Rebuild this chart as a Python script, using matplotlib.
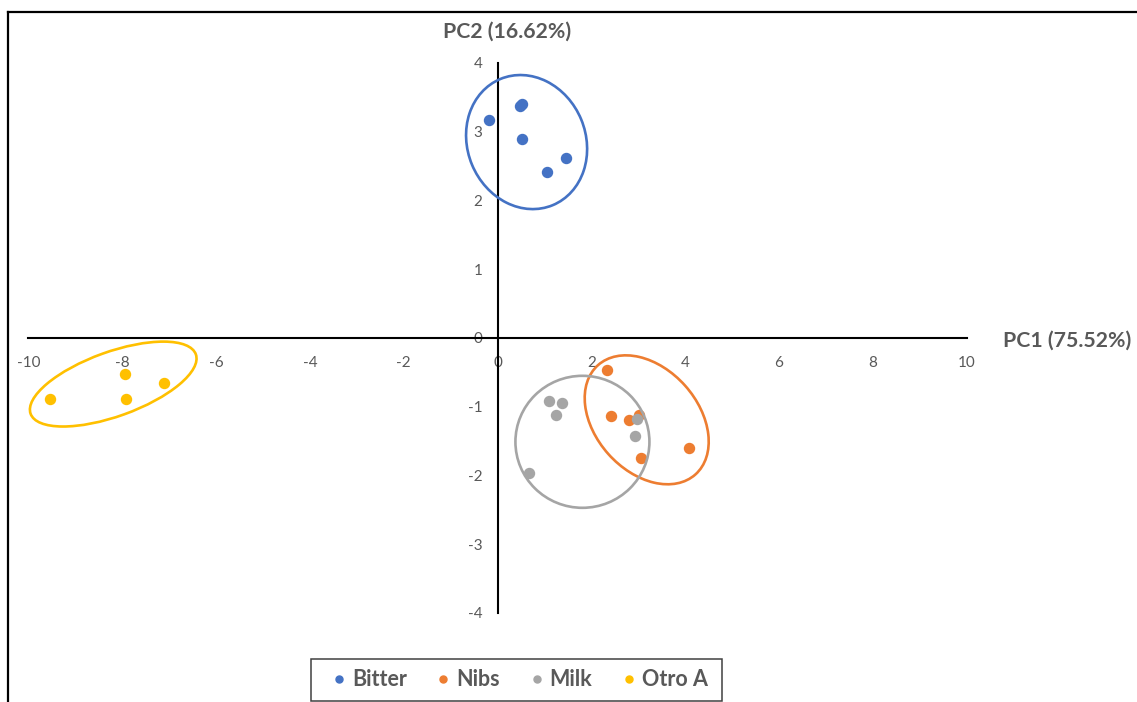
import matplotlib
matplotlib.use("Agg")
import matplotlib.pyplot as plt
import matplotlib.transforms as mtransforms
from matplotlib.patches import Ellipse, Rectangle
from matplotlib.lines import Line2D

# PCA scores
groups = ["Bitter", "Nibs", "Milk", "Otro A"]
colors = ["#4472C4", "#ED7D31", "#A5A5A5", "#FFC000"]

bitter_pc1 = [-0.18, 0.48, 0.53, 0.53, 1.45, 1.05]
bitter_pc2 = [3.17, 3.38, 3.41, 2.90, 2.62, 2.42]
nibs_pc1 = [2.33, 2.41, 2.80, 3.02, 3.05, 4.09]
nibs_pc2 = [-0.46, -1.14, -1.19, -1.12, -1.74, -1.60]
milk_pc1 = [1.10, 1.37, 1.25, 2.97, 2.94, 0.68]
milk_pc2 = [-0.91, -0.94, -1.12, -1.18, -1.43, -1.96]
otro_pc1 = [-9.54, -7.93, -7.92, -7.11]
otro_pc2 = [-0.89, -0.53, -0.89, -0.65]

x_ticks = [-10, -8, -6, -4, -2, 0, 2, 4, 6, 8, 10]
y_ticks = [-4, -3, -2, -1, 0, 1, 2, 3, 4]
x_title = "PC1 (75.52%)"
y_title = "PC2 (16.62%)"

plt.rcParams['font.family'] = ['Lato', 'DejaVu Sans']
txt_gray = "#595959"

fig = plt.figure(figsize=(11.37, 7.02), dpi=100)
ax = fig.add_axes([28.3 / 1137, 89 / 702, 938.4 / 1137, 550 / 702])

series = [(bitter_pc1, bitter_pc2), (nibs_pc1, nibs_pc2),
          (milk_pc1, milk_pc2), (otro_pc1, otro_pc2)]
handles = []
for (xs, ys), name, col in zip(series, groups, colors):
    h, = ax.plot(xs, ys, 'o', color=col, markersize=7.2, label=name,
                 linestyle='none', zorder=3)
    handles.append(h)

ax.set_xlim(-10, 10)
ax.set_ylim(-4, 4)
ax.set_xticks(x_ticks)
ax.set_yticks(y_ticks)
ax.set_xticklabels([str(v) for v in x_ticks])
ax.set_yticklabels([str(v) for v in y_ticks])

for s in ['top', 'right']:
    ax.spines[s].set_visible(False)
ax.spines['left'].set_position(('data', 0))
ax.spines['bottom'].set_position(('data', 0))
ax.spines['left'].set_linewidth(1.5)
ax.spines['bottom'].set_linewidth(1.5)
ax.tick_params(axis='both', length=0, labelsize=11, labelcolor=txt_gray)
ax.tick_params(axis='x', pad=13)
ax.tick_params(axis='y', pad=11)
ax.patch.set_alpha(0)


# group ellipses, sized in screen pixels (like the drawn shapes in the original)
def group_ellipse(cx, cy, w_px, h_px, angle, col):
    tr = fig.dpi_scale_trans + mtransforms.ScaledTranslation(cx, cy, ax.transData)
    e = Ellipse((0, 0), w_px / 100, h_px / 100, angle=angle, transform=tr,
                fill=False, edgecolor=col, linewidth=1.9, zorder=4)
    ax.add_patch(e)


group_ellipse(0.62, 2.85, 136.6, 118.2, -67.5, colors[0])
group_ellipse(3.18, -1.19, 146.4, 102.8, -48.3, colors[1])
group_ellipse(1.81, -1.51, 134, 132, 0, colors[2])
group_ellipse(-8.19, -0.67, 175.6, 64.4, 19.8, colors[3])

# axis titles
fig.text(507 / 1137, 1 - 32 / 702, y_title, ha='center', va='center',
         fontsize=15.3, fontweight='bold', color=txt_gray)
fig.text(1003 / 1137, 1 - 341 / 702, x_title, ha='left', va='center',
         fontsize=15.3, fontweight='bold', color=txt_gray)

# chart border (top and left edges visible)
fig.add_artist(Line2D([8 / 1137, 8 / 1137], [0, 1 - 12 / 702], color='black',
                      linewidth=1.6, transform=fig.transFigure))
fig.add_artist(Line2D([8 / 1137, 1], [1 - 12 / 702, 1 - 12 / 702], color='black',
                      linewidth=1.6, transform=fig.transFigure))

# legend box
fig.add_artist(Rectangle((311 / 1137, 1 / 702), 411 / 1137, 42 / 702,
                         transform=fig.transFigure, fill=False,
                         edgecolor='#404040', linewidth=1.1))
fig.legend(handles=handles, loc='center', ncol=4, frameon=False,
           bbox_to_anchor=(518 / 1137, 1 - 680 / 702),
           prop={'size': 15.5, 'weight': 'bold'}, labelcolor=txt_gray,
           markerscale=0.7, handletextpad=0.1, columnspacing=1.2,
           handlelength=1.0)

fig.savefig("out.png", dpi=100)
